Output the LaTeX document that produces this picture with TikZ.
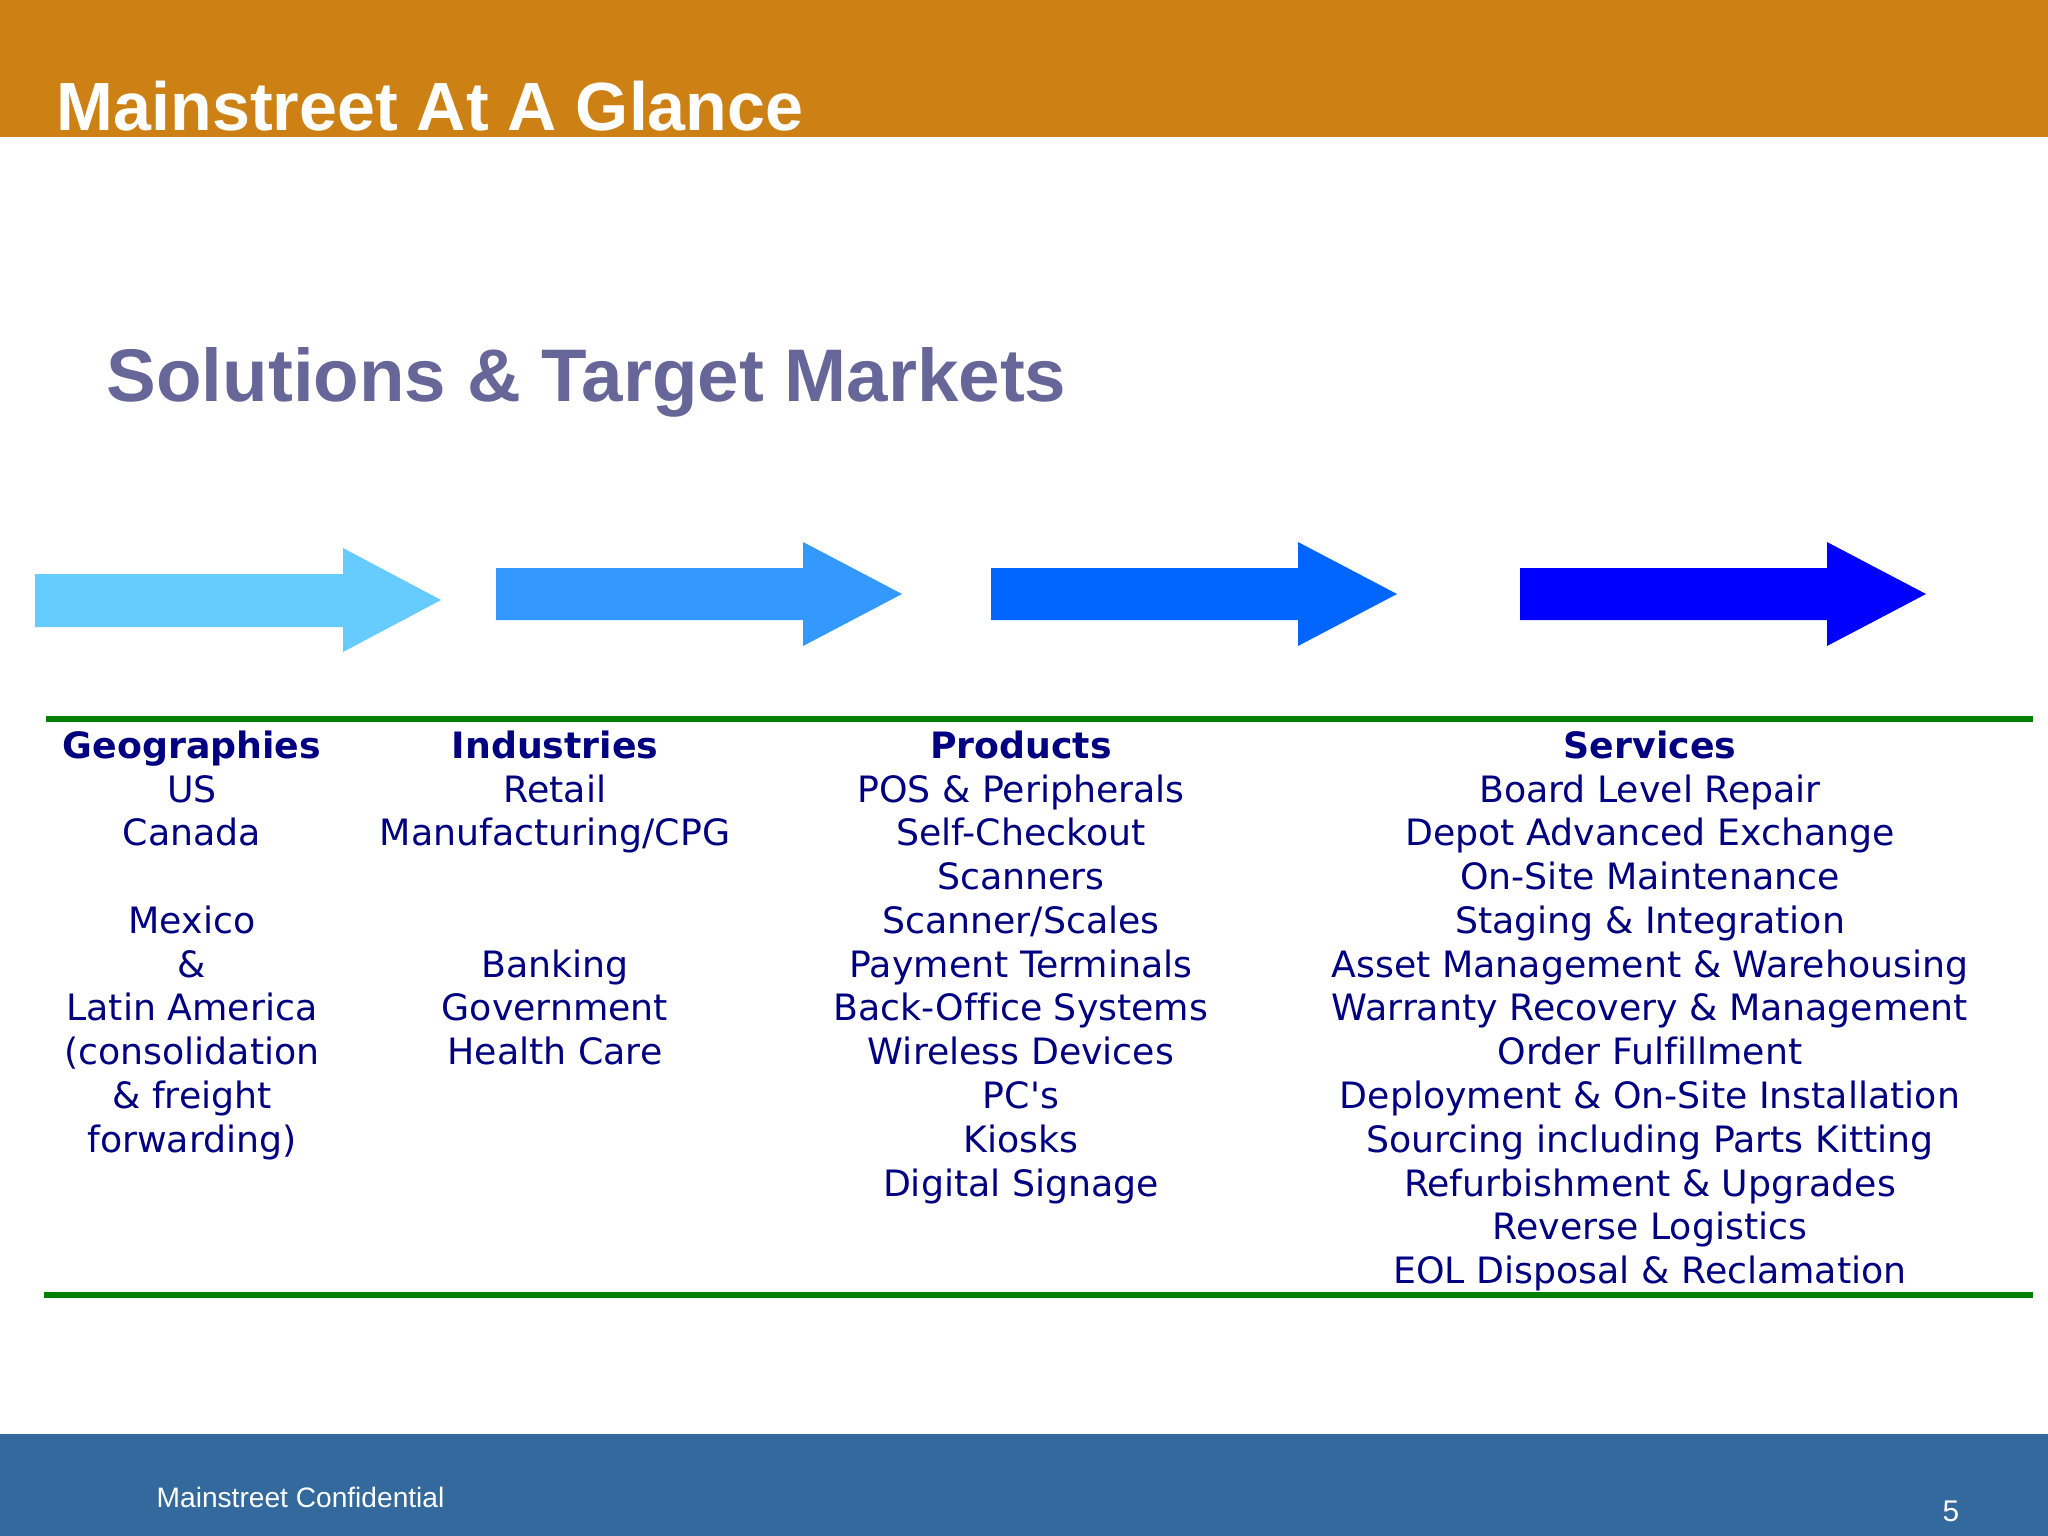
\documentclass[tikz,border=0pt]{standalone}
\usepackage{fontspec}
\setmainfont{DejaVu Sans}
\newfontfamily\bodyfont{DejaVu Sans}[Ligatures=NoCommon]
\newfontfamily\headfont{Liberation Sans}
\definecolor{headorange}{HTML}{CD8114}
\definecolor{footblue}{HTML}{33699C}
\definecolor{titleblue}{HTML}{666699}
\definecolor{bodynavy}{HTML}{000080}
\definecolor{rulegreen}{HTML}{008000}
\definecolor{arrowa}{HTML}{66CCFF}
\definecolor{arrowb}{HTML}{3399FF}
\definecolor{arrowc}{HTML}{0066FF}
\definecolor{arrowd}{HTML}{0000FF}
\tikzset{
  column/.style={anchor=north, align=center, text=bodynavy, inner sep=0pt, font=\bodyfont\fontsize{10.32}{12.45}\selectfont},
  greenrule/.style={rulegreen, line width=1.5pt}
}
\begin{document}
\begin{tikzpicture}[x=0.01cm,y=-0.01cm]
\useasboundingbox (0,0) rectangle (2048,1536);

\fill[white] (0,0) rectangle (2048,1536);
\fill[headorange] (0,0) rectangle (2048,137);
\fill[footblue] (0,1434) rectangle (2048,1536);

\node[anchor=base west, inner sep=0pt, text=white, font=\headfont\bfseries\fontsize{19.4}{24}\selectfont] (header) at (56,130) {Mainstreet At A Glance};
\node[anchor=base west, inner sep=0pt, text=titleblue, font=\headfont\bfseries\fontsize{21.2}{26}\selectfont] (title) at (106,401) {Solutions \& Target Markets};

\fill[arrowa] (35,574) -- (343,574) -- (343,548) -- (441,600) -- (343,652) -- (343,627) -- (35,627) -- cycle;
\fill[arrowb] (496,568) -- (803,568) -- (803,542) -- (902,594) -- (803,646) -- (803,620) -- (496,620) -- cycle;
\fill[arrowc] (991,568) -- (1298,568) -- (1298,542) -- (1397,594) -- (1298,646) -- (1298,620) -- (991,620) -- cycle;
\fill[arrowd] (1520,568) -- (1827,568) -- (1827,542) -- (1926,594) -- (1827,646) -- (1827,620) -- (1520,620) -- cycle;

\coordinate (topa) at (46,719);
\coordinate (topb) at (2033,719);
\coordinate (bota) at (44,1295);
\coordinate (botb) at (2033,1295);
\draw[greenrule] (topa) -- (topb);
\draw[greenrule] (bota) -- (botb);

\node[column] (geo) at (192,730) {\textbf{Geographies}\\US\\Canada\\ \\Mexico\\\&\\Latin America\\(consolidation\\\& freight\\forwarding)};
\node[column] (ind) at (555,730) {\textbf{Industries}\\Retail\\Manufacturing/CPG\\ \\ \\Banking\\Government\\Health Care};
\node[column] (prod) at (1021,730) {\textbf{Products}\\POS \& Peripherals\\Self-Checkout\\Scanners\\Scanner/Scales\\Payment Terminals\\Back-Office Systems\\Wireless Devices\\PC's\\Kiosks\\Digital Signage};
\node[column] (serv) at (1650,730) {\textbf{Services}\\Board Level Repair\\Depot Advanced Exchange\\On-Site Maintenance\\Staging \& Integration\\Asset Management \& Warehousing\\Warranty Recovery \& Management\\Order Fulfillment\\Deployment \& On-Site Installation\\Sourcing including Parts Kitting\\Refurbishment \& Upgrades\\Reverse Logistics\\EOL Disposal \& Reclamation};

\node[anchor=base west, inner sep=0pt, text=white, font=\headfont\fontsize{8}{10}\selectfont] (conf) at (156,1507) {Mainstreet Confidential};
\node[anchor=base east, inner sep=0pt, text=white, font=\headfont\fontsize{8.5}{10}\selectfont] (page) at (1960,1521) {5};

\end{tikzpicture}
\end{document}
